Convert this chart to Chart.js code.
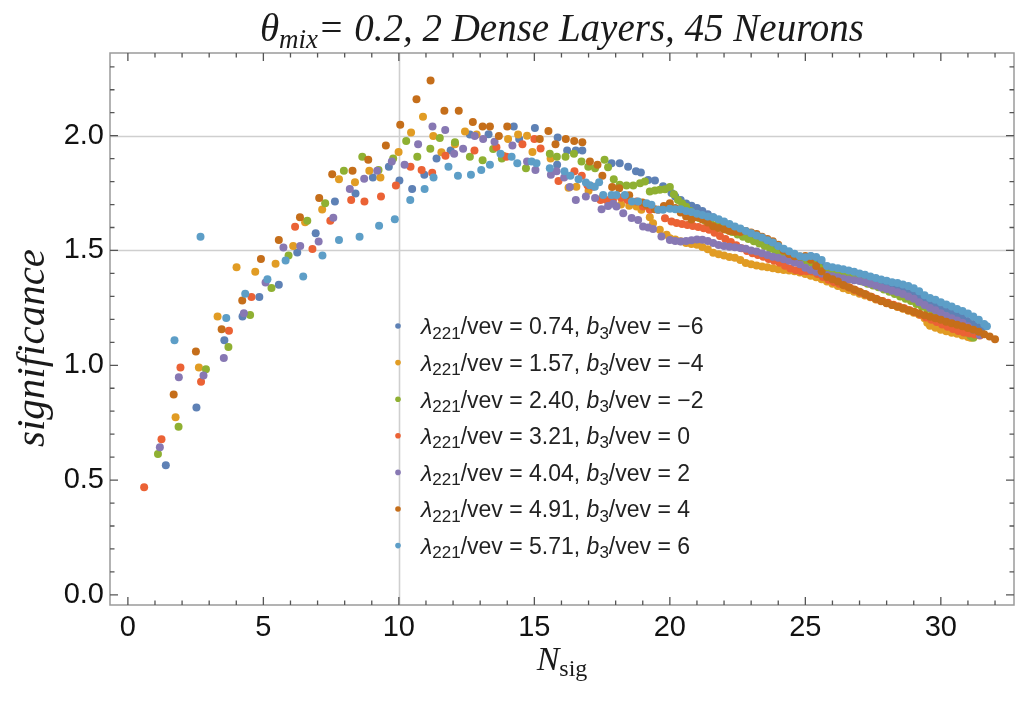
<!DOCTYPE html>
<html><head><meta charset="utf-8">
<script src="https://cdn.jsdelivr.net/npm/chart.js@4/dist/chart.umd.min.js"></script>
<style>html,body{margin:0;padding:0;background:#fff;}#wrap{width:1028px;height:709px;}</style>
</head><body><div id="wrap"><canvas id="c" width="1028" height="709"></canvas></div>
<script>
// ---- data (N_sig, significance) ----
const seriesBlue = [[1.40,0.565],[2.53,0.816],[3.56,1.109],[4.23,1.212],[4.85,1.297],[5.57,1.351],[6.25,1.491],[6.93,1.575],[7.64,1.713],[8.40,1.748],[9.04,1.818],[9.63,1.865],[10.02,1.805],[10.49,1.768],[10.94,1.83],[11.39,1.90],[11.91,1.935],[12.62,2.005],[13.31,2.006],[14.24,2.04],[14.44,1.985],[15.02,2.033],[15.84,1.873],[15.86,1.992],[16.21,1.935],[16.53,1.935],[16.77,1.935],[17.85,1.88],[18.15,1.88],[18.46,1.865],[18.75,1.845],[18.93,1.84],[19.2,1.807],[19.45,1.805],[19.75,1.78],
[20.06,1.75],[20.2,1.735],[20.4,1.72],[20.6,1.705],[20.8,1.695],[21.0,1.685],[21.2,1.672],[21.4,1.658],[21.6,1.645],[21.8,1.632],[22.0,1.618],[22.2,1.605],[22.4,1.592],[22.6,1.58],[22.8,1.57],[23.0,1.56],[23.2,1.55],[23.4,1.54],[23.6,1.53],[23.8,1.52],[24.0,1.51],[24.2,1.497],[24.4,1.485],[24.6,1.476],[24.8,1.47],[25.0,1.472],[25.2,1.475],[25.4,1.46],[25.6,1.442],[25.8,1.425],[26.0,1.415],[26.2,1.407],[26.4,1.40],[26.6,1.393],[26.8,1.387],[27.0,1.38],[27.2,1.373],[27.4,1.367],[27.6,1.36],[27.8,1.353],[28.0,1.347],[28.2,1.34],[28.4,1.333],[28.6,1.325],[28.8,1.315],[29.0,1.305],[29.2,1.295],[29.4,1.285],[29.6,1.275],[29.8,1.265],[30.0,1.255],[30.2,1.245],[30.4,1.233],[30.6,1.22],[30.8,1.207],[31.0,1.193],[31.2,1.18],[31.4,1.167],[31.5,1.16]];
const seriesOrange = [[1.76,0.774],[2.62,0.99],[3.31,1.212],[4.01,1.427],[4.70,1.407],[5.45,1.442],[6.10,1.52],[6.54,1.623],[7.17,1.678],[7.79,1.81],[8.38,1.797],[8.91,1.847],[9.32,1.818],[9.99,1.929],[10.45,2.014],[10.89,2.082],[11.27,1.998],[11.57,1.928],[12.07,1.963],[12.44,2.018],[12.87,2.005],[13.85,1.913],[14.03,1.985],[14.40,2.005],[14.73,2.0],[14.93,1.929],[15.6,1.90],[16.26,1.773],[16.55,1.777],[17.0,1.76],[17.5,1.73],[17.85,1.72],[18.2,1.70],[18.5,1.695],[18.77,1.691],[18.95,1.677],[19.26,1.645],[19.38,1.619],[19.63,1.59],[19.88,1.568],
[20.0,1.553],[20.2,1.548],[20.4,1.54],[20.6,1.533],[20.8,1.528],[21.0,1.525],[21.2,1.515],[21.4,1.505],[21.6,1.49],[21.8,1.483],[22.0,1.478],[22.2,1.472],[22.4,1.468],[22.6,1.458],[22.8,1.445],[23.0,1.44],[23.2,1.435],[23.4,1.43],[23.6,1.427],[23.8,1.423],[24.0,1.418],[24.2,1.415],[24.4,1.413],[24.6,1.41],[24.8,1.404],[25.0,1.397],[25.2,1.39],[25.4,1.383],[25.6,1.375],[25.8,1.365],[26.0,1.355],[26.2,1.345],[26.4,1.335],[26.6,1.328],[26.8,1.32],[27.0,1.312],[27.2,1.304],[27.4,1.296],[27.6,1.287],[27.8,1.279],[28.0,1.271],[28.2,1.262],[28.4,1.254],[28.6,1.246],[28.8,1.237],[29.0,1.229],[29.2,1.22],[29.4,1.205],[29.5,1.185],[29.6,1.172],[29.8,1.163],[30.0,1.155],[30.2,1.148],[30.4,1.142],[30.6,1.137],[30.8,1.13],[31.0,1.123],[31.1,1.12]];
const seriesGreen = [[1.11,0.614],[1.87,0.732],[2.88,0.983],[3.71,1.08],[4.51,1.219],[5.30,1.337],[5.93,1.478],[6.62,1.629],[7.28,1.706],[7.97,1.847],[8.65,1.908],[9.25,1.851],[9.79,1.90],[10.27,1.977],[10.68,1.908],[11.16,1.943],[11.51,1.99],[12.07,1.971],[12.62,1.908],[13.09,1.893],[13.48,1.942],[13.8,1.90],[14.69,1.858],[15.57,1.921],[15.83,1.908],[16.15,1.908],[16.46,1.921],[16.74,1.887],[16.99,1.865],[17.24,1.858],[17.59,1.895],[17.72,1.862],[17.93,1.81],[18.15,1.786],[18.4,1.783],[18.65,1.783],[18.9,1.793],[19.08,1.80],[19.26,1.757],[19.45,1.761],[19.63,1.764],[19.82,1.767],
[20.0,1.776],[20.15,1.745],[20.3,1.72],[20.45,1.705],[20.6,1.69],[20.75,1.672],[20.9,1.66],[21.1,1.64],[21.3,1.63],[21.5,1.62],[21.7,1.61],[21.9,1.60],[22.1,1.59],[22.3,1.58],[22.5,1.57],[22.7,1.56],[22.9,1.55],[23.1,1.54],[23.3,1.53],[23.5,1.52],[23.7,1.507],[23.9,1.495],[24.1,1.485],[24.3,1.475],[24.5,1.467],[24.7,1.46],[24.9,1.453],[25.1,1.447],[25.3,1.44],[25.5,1.427],[25.7,1.417],[25.9,1.41],[26.1,1.403],[26.3,1.398],[26.5,1.395],[26.7,1.385],[26.9,1.375],[27.1,1.365],[27.3,1.355],[27.5,1.347],[27.7,1.34],[27.9,1.33],[28.1,1.32],[28.3,1.31],[28.5,1.30],[28.7,1.29],[28.9,1.28],[29.1,1.267],[29.3,1.255],[29.5,1.245],[29.7,1.232],[29.9,1.218],[30.1,1.205],[30.3,1.192],[30.5,1.177],[30.7,1.16],[30.9,1.143],[31.1,1.127],[31.2,1.12]];
const seriesRed = [[0.60,0.469],[1.24,0.678],[1.94,0.99],[2.70,0.928],[3.73,1.15],[4.56,1.297],[6.17,1.603],[6.81,1.506],[7.47,1.629],[8.24,1.72],[8.73,1.713],[9.34,1.735],[9.89,1.783],[10.43,1.865],[10.84,1.851],[11.23,1.839],[11.72,1.913],[12.79,1.935],[13.6,1.95],[13.97,1.908],[14.56,1.963],[15.0,1.985],[15.23,1.944],[15.89,1.803],[16.48,1.845],[16.75,1.825],[16.96,1.784],[17.17,1.778],[17.44,1.72],[17.66,1.72],[17.9,1.72],[18.2,1.73],[18.44,1.72],[18.77,1.713],[19.01,1.691],[19.26,1.677],[19.57,1.677],[19.82,1.64],
[20.06,1.626],[20.25,1.62],[20.45,1.615],[20.65,1.611],[20.85,1.607],[21.05,1.602],[21.25,1.597],[21.45,1.59],[21.65,1.577],[21.85,1.563],[22.05,1.55],[22.25,1.537],[22.45,1.523],[22.65,1.51],[22.85,1.498],[23.05,1.488],[23.25,1.48],[23.45,1.473],[23.65,1.463],[23.85,1.455],[24.05,1.447],[24.25,1.433],[24.45,1.422],[24.65,1.414],[24.85,1.41],[25.05,1.41],[25.25,1.408],[25.45,1.398],[25.65,1.385],[25.85,1.373],[26.05,1.363],[26.25,1.355],[26.45,1.347],[26.65,1.338],[26.85,1.327],[27.05,1.316],[27.25,1.307],[27.45,1.297],[27.65,1.288],[27.85,1.28],[28.05,1.272],[28.25,1.264],[28.45,1.256],[28.65,1.248],[28.85,1.24],[29.05,1.231],[29.25,1.22],[29.45,1.208],[29.65,1.198],[29.85,1.188],[30.05,1.178],[30.25,1.168],[30.45,1.158],[30.65,1.149],[30.85,1.143],[31.05,1.138],[31.25,1.134],[31.44,1.13]];
const seriesPurple = [[1.18,0.643],[1.88,0.948],[2.79,0.955],[3.54,1.032],[4.28,1.227],[5.08,1.36],[5.74,1.513],[6.36,1.52],[7.04,1.539],[7.58,1.643],[8.19,1.768],[8.72,1.812],[9.20,1.847],[9.74,1.887],[10.21,1.873],[10.71,1.963],[11.24,2.04],[11.71,2.025],[12.04,1.921],[12.37,1.943],[12.80,1.998],[13.11,1.985],[13.53,1.974],[14.19,1.957],[14.73,1.887],[15.04,1.851],[15.61,1.83],[15.82,1.845],[16.1,1.818],[16.31,1.776],[16.53,1.72],[16.9,1.735],[17.24,1.728],[17.48,1.68],[17.72,1.694],[17.91,1.703],[18.03,1.691],[18.28,1.662],[18.59,1.641],[18.83,1.633],[19.01,1.604],[19.2,1.60],[19.38,1.593],[19.69,1.561],
[20.0,1.546],[20.2,1.541],[20.4,1.539],[20.6,1.541],[20.8,1.544],[21.0,1.548],[21.2,1.547],[21.4,1.541],[21.6,1.532],[21.8,1.524],[22.0,1.519],[22.2,1.516],[22.4,1.514],[22.6,1.511],[22.8,1.507],[23.0,1.50],[23.2,1.495],[23.4,1.488],[23.6,1.48],[23.8,1.473],[24.0,1.468],[24.2,1.462],[24.4,1.455],[24.6,1.448],[24.8,1.44],[25.0,1.425],[25.2,1.415],[25.4,1.407],[25.6,1.40],[25.8,1.393],[26.0,1.388],[26.2,1.383],[26.4,1.378],[26.6,1.374],[26.8,1.37],[27.0,1.367],[27.2,1.362],[27.4,1.355],[27.6,1.347],[27.8,1.339],[28.0,1.332],[28.2,1.325],[28.4,1.318],[28.6,1.31],[28.8,1.30],[29.0,1.29],[29.2,1.275],[29.4,1.262],[29.6,1.25],[29.8,1.24],[30.0,1.227],[30.2,1.215],[30.4,1.205],[30.6,1.195],[30.8,1.185],[31.0,1.17],[31.2,1.155],[31.44,1.132]];
const seriesDarkOrange = [[1.69,0.873],[2.51,1.06],[3.46,1.157],[4.22,1.282],[4.91,1.463],[5.57,1.546],[6.35,1.645],[7.06,1.729],[7.54,1.832],[8.29,1.847],[8.87,1.895],[9.52,1.957],[10.05,2.047],[10.65,2.159],[11.17,2.24],[11.68,2.109],[12.21,2.109],[12.73,2.06],[13.09,2.04],[13.36,2.04],[13.69,1.998],[14.0,2.04],[15.2,1.985],[15.52,2.02],[15.78,1.963],[16.16,1.985],[16.47,1.977],[16.77,1.971],[17.05,1.887],[17.33,1.873],[17.51,1.825],[17.87,1.776],[18.13,1.771],[18.5,1.74],[18.99,1.709],[19.14,1.699],[19.45,1.68],[19.78,1.694],
[20.0,1.706],[20.2,1.685],[20.4,1.665],[20.6,1.648],[20.8,1.635],[21.0,1.645],[21.2,1.635],[21.4,1.622],[21.6,1.605],[21.8,1.598],[22.0,1.592],[22.2,1.585],[22.4,1.581],[22.6,1.58],[22.8,1.585],[23.0,1.578],[23.2,1.572],[23.4,1.56],[23.6,1.55],[23.8,1.54],[24.0,1.525],[24.2,1.50],[24.4,1.485],[24.6,1.475],[24.8,1.474],[25.0,1.476],[25.2,1.46],[25.4,1.432],[25.6,1.41],[25.8,1.385],[26.0,1.375],[26.2,1.365],[26.4,1.35],[26.6,1.34],[26.8,1.33],[27.0,1.32],[27.2,1.31],[27.4,1.30],[27.6,1.29],[27.8,1.28],[28.0,1.27],[28.2,1.262],[28.4,1.256],[28.6,1.248],[28.8,1.24],[29.0,1.233],[29.2,1.226],[29.4,1.218],[29.6,1.211],[29.8,1.205],[30.0,1.198],[30.2,1.19],[30.4,1.183],[30.6,1.177],[30.8,1.17],[31.0,1.162],[31.2,1.155],[31.4,1.146],[31.6,1.135],[31.8,1.125],[32.0,1.113]];
const seriesLightBlue = [[1.72,1.109],[2.68,1.56],[3.63,1.206],[4.33,1.311],[5.15,1.375],[5.82,1.456],[6.47,1.387],[7.18,1.478],[7.79,1.546],[8.55,1.56],[9.27,1.608],[9.85,1.636],[10.42,1.72],[10.95,1.768],[11.28,1.818],[11.83,1.865],[12.18,1.825],[12.66,1.83],[13.04,1.851],[13.36,1.873],[13.75,1.921],[14.16,1.908],[14.37,1.88],[14.9,1.887],[15.08,1.88],[15.57,1.858],[16.11,1.845],[16.33,1.825],[16.63,1.81],[16.9,1.796],[17.05,1.784],[17.23,1.778],[17.39,1.797],[17.54,1.742],[17.85,1.742],[18.03,1.742],[18.34,1.742],[18.6,1.713],[18.83,1.713],[19.14,1.706],[19.32,1.699],[19.57,1.677],[19.75,1.677],
[20.0,1.682],[20.2,1.679],[20.4,1.68],[20.6,1.672],[20.8,1.668],[21.0,1.66],[21.2,1.655],[21.4,1.648],[21.6,1.645],[21.8,1.636],[22.0,1.626],[22.2,1.615],[22.4,1.604],[22.6,1.596],[22.8,1.585],[23.0,1.575],[23.2,1.565],[23.4,1.556],[23.6,1.545],[23.8,1.535],[24.0,1.52],[24.2,1.507],[24.4,1.497],[24.6,1.486],[24.8,1.475],[25.0,1.47],[25.2,1.476],[25.4,1.472],[25.6,1.458],[25.8,1.432],[26.0,1.427],[26.2,1.423],[26.4,1.418],[26.6,1.413],[26.8,1.407],[27.0,1.40],[27.2,1.394],[27.4,1.387],[27.6,1.38],[27.8,1.374],[28.0,1.368],[28.2,1.362],[28.4,1.358],[28.6,1.352],[28.8,1.345],[29.0,1.336],[29.2,1.322],[29.4,1.305],[29.6,1.293],[29.8,1.285],[30.0,1.275],[30.2,1.265],[30.4,1.256],[30.6,1.245],[30.8,1.236],[31.0,1.226],[31.2,1.212],[31.4,1.198],[31.6,1.18],[31.7,1.17]];

const lambdaVals = ['0.74','1.57','2.40','3.21','4.04','4.91','5.71'];
const b3Vals = ['\u22126','\u22124','\u22122','0','2','4','6'];
const seriesColors = ['#5E81B5','#E19C24','#8FB032','#EB6235','#8778B3','#C56E1A','#5D9EC7'];
const xTickLabels = [0,5,10,15,20,25,30];
const yTickLabels = ['0.0','0.5','1.0','1.5','2.0'];
const gridXVals = [10];
const gridYVals = [1.5, 2.0];

const allSeries = [seriesBlue, seriesOrange, seriesGreen, seriesRed, seriesPurple, seriesDarkOrange, seriesLightBlue];

const datasets = allSeries.map((s, i) => ({
  label: 'λ221/vev = ' + lambdaVals[i] + ', b3/vev = ' + b3Vals[i],
  data: s.map(p => ({x: p[0], y: p[1]})),
  backgroundColor: seriesColors[i],
  borderColor: seriesColors[i],
  pointRadius: 4,
  pointBorderWidth: 0,
  pointHoverRadius: 4,
  showLine: false,
  order: 7 - i
}));

function richText(ctx, x, y, parts, align) {
  let w = 0;
  parts.forEach(p => { ctx.font = p.font; p.w = ctx.measureText(p.t).width; w += p.w; });
  let cx = align === 'center' ? x - w / 2 : x;
  parts.forEach(p => { ctx.font = p.font; ctx.fillText(p.t, cx, y + (p.dy || 0)); cx += p.w; });
  return w;
}

const decor = {
  id: 'decor',
  beforeDatasetsDraw(chart) {
    const {ctx, chartArea: a, scales: {x, y}} = chart;
    ctx.save();
    ctx.strokeStyle = '#cfcfcf';
    ctx.lineWidth = 1.6;
    gridYVals.forEach(v => { const py = Math.round(y.getPixelForValue(v)) + 0.5; ctx.beginPath(); ctx.moveTo(a.left, py); ctx.lineTo(a.right, py); ctx.stroke(); });
    gridXVals.forEach(v => { const px = Math.round(x.getPixelForValue(v)) + 0.5; ctx.beginPath(); ctx.moveTo(px, a.top); ctx.lineTo(px, a.bottom); ctx.stroke(); });
    ctx.restore();
  },
  afterDraw(chart) {
    const {ctx, chartArea: a, scales: {x, y}} = chart;
    ctx.save();
    ctx.strokeStyle = '#9a9a9a';
    ctx.lineWidth = 1.5;
    ctx.strokeRect(a.left, a.top, a.right - a.left, a.bottom - a.top);
    ctx.strokeStyle = '#555';
    ctx.lineWidth = 1.3;
    for (let v = 0; v <= 32; v++) {
      const px = x.getPixelForValue(v);
      const L = v % 5 === 0 ? 8 : 4.5;
      ctx.beginPath();
      ctx.moveTo(px, a.bottom); ctx.lineTo(px, a.bottom - L);
      ctx.moveTo(px, a.top); ctx.lineTo(px, a.top + L);
      ctx.stroke();
    }
    for (let k = 0; k <= 23; k++) {
      const py = y.getPixelForValue(k / 10);
      const L = k % 5 === 0 ? 8 : 4.5;
      ctx.beginPath();
      ctx.moveTo(a.left, py); ctx.lineTo(a.left + L, py);
      ctx.moveTo(a.right, py); ctx.lineTo(a.right - L, py);
      ctx.stroke();
    }
    ctx.fillStyle = '#1a1a1a';
    ctx.textBaseline = 'alphabetic';
    const tf = 'italic 39px "Liberation Serif", "DejaVu Serif", serif';
    richText(ctx, (a.left + a.right) / 2, 41, [
      {t: 'θ', font: tf},
      {t: 'mix', font: 'italic 27px "Liberation Serif", serif', dy: 7},
      {t: '= 0.2, 2 Dense Layers, 45 Neurons', font: tf}
    ], 'center');
    richText(ctx, (a.left + a.right) / 2, 670, [
      {t: 'N', font: 'italic 34px "Liberation Serif", serif'},
      {t: 'sig', font: '24px "Liberation Serif", serif', dy: 6}
    ], 'center');
    ctx.save();
    ctx.translate(44, 348);
    ctx.rotate(-Math.PI / 2);
    ctx.font = 'italic 41px "Liberation Serif", serif';
    ctx.textAlign = 'center';
    ctx.fillText('significance', 0, 0);
    ctx.restore();
    const mX = 398, tX = 421, y0 = 326, gap = 36.6;
    const fs = 23;
    const reg = fs + 'px "Liberation Sans", Arial, sans-serif';
    const ita = 'italic ' + fs + 'px "Liberation Sans", Arial, sans-serif';
    const sub = Math.round(fs * 0.72) + 'px "Liberation Sans", Arial, sans-serif';
    for (let i = 0; i < lambdaVals.length; i++) {
      const ry = y0 + gap * i;
      ctx.fillStyle = seriesColors[i];
      ctx.beginPath(); ctx.arc(mX, ry, 2.8, 0, Math.PI * 2); ctx.fill();
      ctx.fillStyle = '#222';
      ctx.textBaseline = 'middle';
      richText(ctx, tX, ry + 2, [
        {t: 'λ', font: ita},
        {t: '221', font: sub, dy: 6},
        {t: '/vev = ' + lambdaVals[i] + ', ', font: reg},
        {t: 'b', font: ita},
        {t: '3', font: sub, dy: 6},
        {t: '/vev = ' + b3Vals[i], font: reg}
      ], 'left');
    }
    ctx.restore();
  }
};

new Chart(document.getElementById('c'), {
  type: 'scatter',
  data: {datasets},
  options: {
    responsive: false,
    devicePixelRatio: 1,
    animation: false,
    layout: {padding: {left: 0, right: 14, top: 53, bottom: 0}},
    plugins: {legend: {display: false}, tooltip: {enabled: false}, title: {display: false}},
    scales: {
      x: {
        type: 'linear', position: 'bottom', min: -0.66, max: 32.7,
        afterFit(s) { s.height = 104; },
        grid: {display: false, drawTicks: false}, border: {display: false},
        ticks: {stepSize: 5, includeBounds: false, autoSkip: false, maxRotation: 0, padding: 6, color: '#111',
          font: {family: '"Liberation Sans", Arial, sans-serif', size: 29},
          callback: (v) => xTickLabels.includes(v) ? String(v) : ''}
      },
      y: {
        type: 'linear', min: -0.044, max: 2.36,
        afterFit(s) { s.width = 110; },
        grid: {display: false, drawTicks: false}, border: {display: false},
        ticks: {stepSize: 0.5, includeBounds: false, autoSkip: false, padding: 6, color: '#111',
          font: {family: '"Liberation Sans", Arial, sans-serif', size: 29},
          callback: (v) => { const s = Number(v).toFixed(1); return yTickLabels.includes(s) ? s : ''; }}
      }
    }
  },
  plugins: [decor]
});
</script></body></html>
